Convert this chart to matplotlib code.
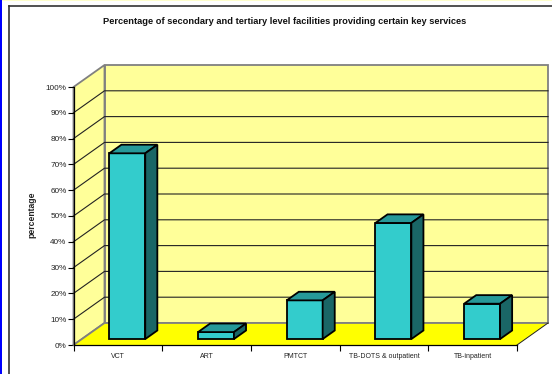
import matplotlib
matplotlib.use("Agg")
import matplotlib.pyplot as plt
from matplotlib.patches import Polygon, Rectangle
from matplotlib.lines import Line2D

categories = ["VCT", "ART", "PMTCT", "TB-DOTS & outpatient", "TB-inpatient"]
values = [72, 2.7, 15, 45, 13.7]
y_ticks = [0, 10, 20, 30, 40, 50, 60, 70, 80, 90, 100]
y_labels = [f"{v}%" for v in y_ticks]
title = "Percentage of secondary and tertiary level facilities providing certain key services"
y_title = "percentage"

W, H = 552, 374
plt.rcParams["font.family"] = ["Liberation Sans", "DejaVu Sans"]
fig = plt.figure(figsize=(W / 100, H / 100), dpi=100, facecolor="white")

L, R, T, B = 73.5, 517.0, 87.0, 345.0
ax = fig.add_axes([L / W, 1 - B / H, (R - L) / W, (B - T) / H])
ax.set_xlim(0, 5)
ax.set_ylim(0, 100)
ax.patch.set_visible(False)

DX = 31 / ((R - L) / 5)      # full depth in category units
DY = 22 / ((B - T) / 100)    # full depth in value units


def P(x, v, d=0.0):
    return (x + d * DX, v + d * DY)


WALL, FLOOR, GREY = "#FFFF99", "#FFFF00", "#808080"
ax.add_patch(Polygon([P(0, 0, 1), P(5, 0, 1), P(5, 100, 1), P(0, 100, 1)], fc=WALL, ec=GREY, lw=1.3, clip_on=False, zorder=1))
ax.add_patch(Polygon([P(0, 0), P(0, 0, 1), P(0, 100, 1), P(0, 100)], fc=WALL, ec=GREY, lw=1.3, clip_on=False, zorder=1))
ax.add_patch(Polygon([P(0, 0), P(5, 0), P(5, 0, 1), P(0, 0, 1)], fc=FLOOR, ec="none", clip_on=False, zorder=1.5))
ax.plot(*zip(P(0, 0), P(0, 0, 1), P(5, 0, 1)), color=GREY, lw=1.3, clip_on=False, zorder=1.6)
ax.plot(*zip(P(5, 0), P(5, 0, 1)), color="#222222", lw=0.7, clip_on=False, zorder=1.6)

for v in y_ticks[1:-1]:
    pts = [P(0, v), P(0, v, 1), P(5, v, 1)]
    ax.plot(*zip(*pts), color="#222222", lw=0.8, clip_on=False, zorder=2)

BAR_W, D0, D1 = 0.405, 0.27, 0.66
EC = "black"
for i, val in enumerate(values):
    x0 = i + 0.5 - BAR_W / 2 + 0.012
    x1 = x0 + BAR_W
    kw = dict(ec=EC, lw=1.3, clip_on=False, zorder=3, joinstyle="miter")
    ax.add_patch(Polygon([P(x0, 0, D0), P(x1, 0, D0), P(x1, val, D0), P(x0, val, D0)], fc="#33CCCC", **kw))
    ax.add_patch(Polygon([P(x0, val, D0), P(x1, val, D0), P(x1, val, D1), P(x0, val, D1)], fc="#269999", **kw))
    ax.add_patch(Polygon([P(x1, 0, D0), P(x1, 0, D1), P(x1, val, D1), P(x1, val, D0)], fc="#1A6666", **kw))

for s in ("top", "right"):
    ax.spines[s].set_visible(False)
ax.spines["left"].set_linewidth(0.9)
ax.spines["bottom"].set_linewidth(0.9)
ax.spines["left"].set_zorder(2.5)
ax.spines["bottom"].set_zorder(2.5)

ax.set_yticks(y_ticks, y_labels, fontsize=5.9, color="#222222")
ax.set_xticks(range(6))
ax.set_xticklabels([])
ax.set_xticks([i + 0.5 for i in range(5)], categories, minor=True, fontsize=5.0, color="#222222")
ax.tick_params(axis="y", length=4, width=0.8, pad=1)
ax.tick_params(axis="x", which="major", length=4, width=0.8)
ax.tick_params(axis="x", which="minor", length=0, pad=6)

fig.text(285 / W, 1 - 22 / H, title, ha="center", va="center", fontsize=6.65, fontweight="bold", color="#111111")
fig.text(31.5 / W, 1 - 215 / H, y_title, ha="center", va="center", rotation=90, fontsize=6.2, fontweight="bold", color="#222222")

# page decoration around the chart
fig.add_artist(Rectangle((0, 1 - 1.2 / H), 1, 1.2 / H, transform=fig.transFigure, fc="#FFFFCC", ec="none"))
fig.add_artist(Rectangle((0, 0), 2 / W, 1, transform=fig.transFigure, fc="#0000FF", ec="none"))
fig.add_artist(Line2D([9 / W, 9 / W], [0, 1 - 5.8 / H], transform=fig.transFigure, color="#333333", lw=1.2))
fig.add_artist(Line2D([9 / W, 1], [1 - 5.8 / H, 1 - 5.8 / H], transform=fig.transFigure, color="#333333", lw=1.2))

fig.savefig("out.png", dpi=100, facecolor="white")
